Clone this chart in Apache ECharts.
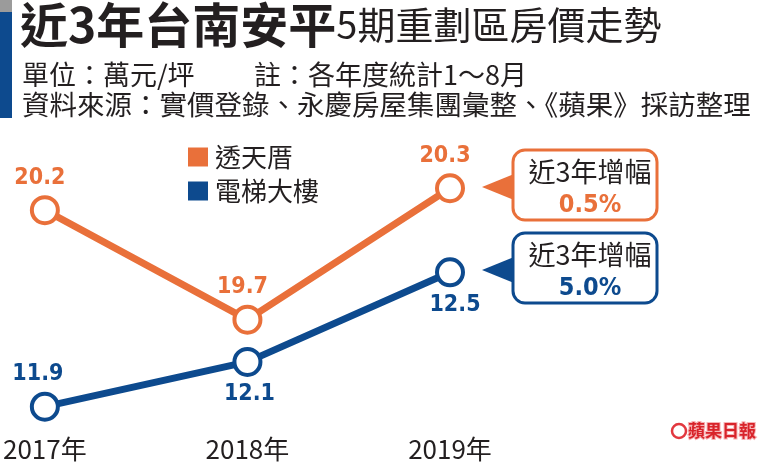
<!DOCTYPE html>
<html>
<head>
<meta charset="utf-8">
<script src="https://cdn.jsdelivr.net/npm/echarts@6/dist/echarts.min.js"></script>
<style>
  html, body { margin: 0; padding: 0; background: #fff; }
  #chart { width: 760px; height: 462px; }
</style>
</head>
<body>
<div id="chart"></div>
<script>
// 近3年台南安平5期重劃區房價 (萬元/坪)
const years = ['2017年', '2018年', '2019年'];
const townhouse = [20.2, 19.7, 20.3];   // 透天厝
const elevator = [11.9, 12.1, 12.5];    // 電梯大樓
const seriesNames = ['透天厝', '電梯大樓'];

const ORANGE = '#e9703a';
const BLUE = '#0d4a8e';
const INK = '#231f20';
const CJK = '"Noto Sans CJK TC", "Noto Sans CJK SC", sans-serif';
const NARROW = '"DejaVu Sans Condensed", "Liberation Sans Narrow", sans-serif';

function growth(arr) {
    let g = (arr[arr.length - 1] - arr[0]) / arr[0] * 100;
    return g.toFixed(1) + '%';
}

function pointLabel(color, pos, offset) {
    return {
        show: true,
        position: pos,
        distance: 6,
        offset: offset,
        color: color,
        fontFamily: NARROW,
        fontWeight: 'bold',
        fontSize: 23
    };
}

function getOption() {
    let orangeData = townhouse.map((v) => ({ value: v, label: pointLabel(ORANGE, 'top', [-5, 0]) }));
    let bluePos = ['top', 'bottom', 'bottom'];
    let blueOff = [[-7, 0], [2, 0], [5, 0]];
    let blueData = elevator.map((v, i) => ({ value: v, label: pointLabel(BLUE, bluePos[i], blueOff[i]) }));

    let calloutBox = function (top, color, value) {
        return [
            {
                type: 'polygon',
                shape: { points: [[482, top + 37], [514, top + 24], [514, top + 50]] },
                style: { fill: color }
            },
            {
                type: 'rect',
                shape: { x: 513, y: top, width: 144, height: 70, r: 12 },
                style: { fill: '#fff', stroke: color, lineWidth: 3 }
            },
            {
                type: 'text',
                x: 590, y: top + 22,
                style: { text: '近3年增幅', fill: INK, font: '27px ' + CJK, textAlign: 'center', textVerticalAlign: 'middle' }
            },
            {
                type: 'text',
                x: 590, y: top + 55,
                style: { text: value, fill: color, font: 'bold 25px ' + NARROW, textAlign: 'center', textVerticalAlign: 'middle' }
            }
        ];
    };

    let graphics = [
        { type: 'rect', shape: { x: 0, y: 0, width: 12, height: 12 }, style: { fill: '#9b9b9b' } },
        { type: 'rect', shape: { x: 0, y: 12, width: 12, height: 106 }, style: { fill: BLUE } },
        {
            type: 'text', x: 22, y: 75,
            style: { text: '單位：萬元/坪', fill: INK, font: '27px ' + CJK, textVerticalAlign: 'middle' }
        },
        {
            type: 'text', x: 254, y: 75,
            style: { text: '註：各年度統計1～8月', fill: INK, font: '27px ' + CJK, textVerticalAlign: 'middle' }
        },
        {
            type: 'text', x: 22, y: 105,
            style: { text: '資料來源：實價登錄、永慶房屋集團彙整、《蘋果》採訪整理', fill: INK, font: '27.5px ' + CJK, textVerticalAlign: 'middle' }
        },
        { type: 'circle', shape: { cx: 679, cy: 431, r: 7 }, style: { fill: '#fff', stroke: '#e2383f', lineWidth: 2.5 } },
        {
            type: 'text', x: 688, y: 431,
            style: { text: '蘋果日報', fill: '#d8232a', stroke: '#f7b4b6', lineWidth: 2, font: 'bold 17px ' + CJK, textVerticalAlign: 'middle' }
        }
    ];
    graphics = graphics.concat(calloutBox(150, ORANGE, growth(townhouse)));
    graphics = graphics.concat(calloutBox(233, BLUE, growth(elevator)));

    return {
        animation: false,
        backgroundColor: '#fff',
        title: {
            text: '{a|近3年台南安平}{b|5期重劃區房價走勢}',
            left: 20,
            top: 0,
            padding: 0,
            textStyle: {
                rich: {
                    a: { fontSize: 48, fontWeight: 'bold', color: INK, fontFamily: CJK, lineHeight: 50 },
                    b: { fontSize: 38, fontWeight: 'normal', color: INK, fontFamily: CJK, lineHeight: 50 }
                }
            }
        },
        legend: {
            data: [
                { name: seriesNames[0], itemStyle: { color: ORANGE, borderWidth: 0 } },
                { name: seriesNames[1], itemStyle: { color: BLUE, borderWidth: 0 } }
            ],
            orient: 'vertical',
            left: 183,
            top: 139,
            itemWidth: 20,
            itemHeight: 19,
            itemGap: 8,
            icon: 'rect',
            textStyle: { fontSize: 26, color: INK, fontFamily: CJK, padding: [0, 0, 0, 2] }
        },
        grid: { left: 42, right: 310, top: 100, bottom: 32 },
        xAxis: {
            type: 'category',
            data: years,
            boundaryGap: false,
            axisLine: { show: false },
            axisTick: { show: false },
            axisLabel: { fontSize: 26, color: INK, fontFamily: CJK, margin: 6 }
        },
        yAxis: [
            { type: 'value', min: 19.196, max: 20.703, show: false, splitLine: { show: false } },
            { type: 'value', min: 11.796, max: 13.269, show: false, splitLine: { show: false } }
        ],
        series: [
            {
                name: seriesNames[0],
                type: 'line',
                yAxisIndex: 0,
                data: orangeData,
                color: ORANGE,
                symbol: 'circle',
                symbolSize: 26,
                lineStyle: { width: 7, color: ORANGE },
                itemStyle: { color: '#fff', borderColor: ORANGE, borderWidth: 4 },
                z: 3
            },
            {
                name: seriesNames[1],
                type: 'line',
                yAxisIndex: 1,
                data: blueData,
                color: BLUE,
                symbol: 'circle',
                symbolSize: 26,
                lineStyle: { width: 7, color: BLUE },
                itemStyle: { color: '#fff', borderColor: BLUE, borderWidth: 4 },
                z: 2
            }
        ],
        graphic: graphics
    };
}

let myChart = echarts.init(document.getElementById('chart'));
myChart.setOption(getOption());
</script>
</body>
</html>
